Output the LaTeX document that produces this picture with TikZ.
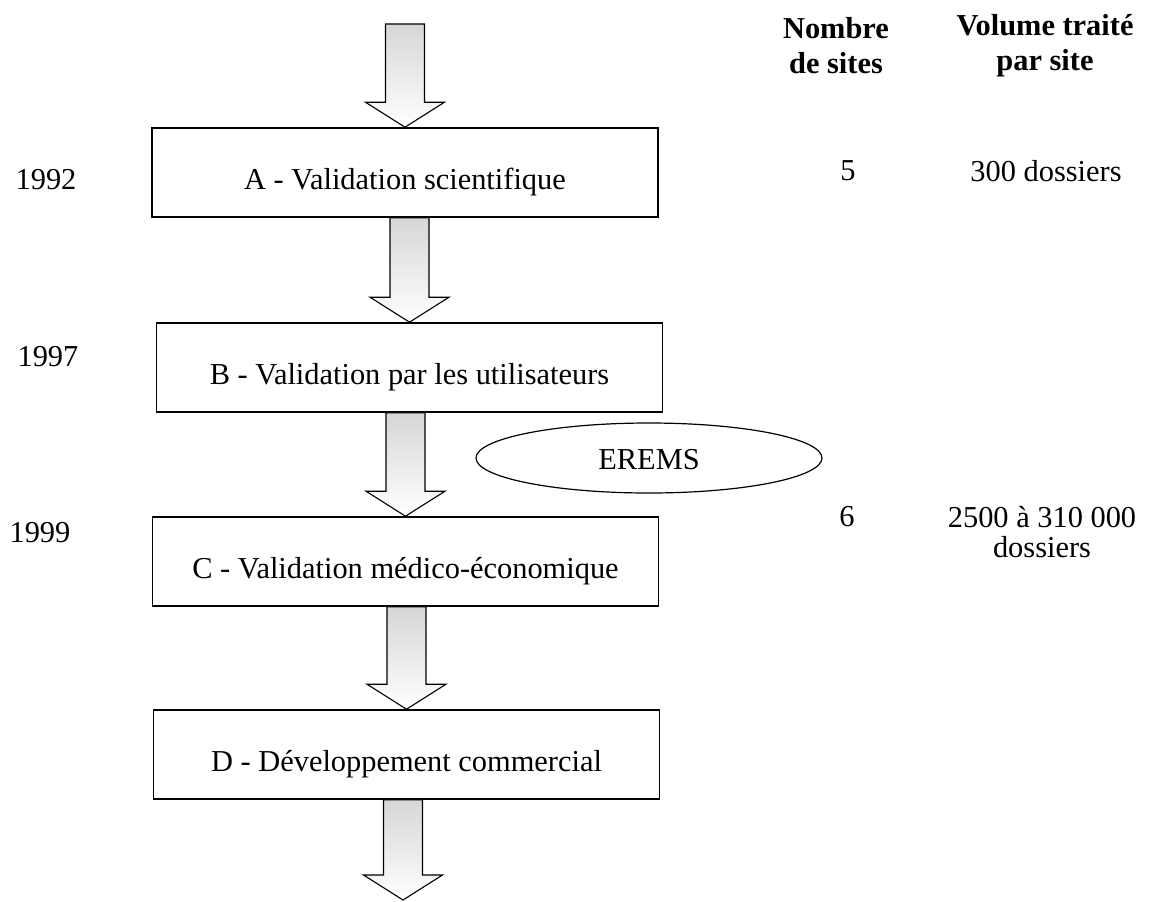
\documentclass[tikz,border=0pt]{standalone}
\usepackage{fontspec}
\setmainfont{Liberation Serif}
\usetikzlibrary{calc}
\usetikzlibrary{shapes.geometric}

\begin{document}
\begin{tikzpicture}[x=0.5pt,y=-0.5pt,
        font=\fontsize{15.2}{18.5}\selectfont,
        stage/.style={draw,line width=0.8pt,minimum width=253pt,minimum height=44.5pt,inner sep=0pt,text height=17pt,text depth=0pt},
        flow/.style={draw,line width=0.55pt,top color=black!16,bottom color=white},
        header/.style={align=center,font=\fontsize{15.2}{17.5}\selectfont\bfseries}]
        \useasboundingbox (0,0) rectangle (1158,901);

        % draw the stages
        \node[stage] (A) at (405,172.5) {A - Validation scientifique};
        \node[stage] (B) at (409.5,367.5) {B - Validation par les utilisateurs};
        \node[stage] (C) at (405.5,561.5) {C - Validation médico-économique};
        \node[stage] (D) at (406.5,754.5) {D - Développement commercial};
        \coordinate (start) at (403,24);
        \coordinate (end) at (403,900);

        % draw the block arrows between the stages
        \foreach \a/\b in {start/A.north, A.south/B.north, B.south/C.north, C.south/D.north, D.south/end} {
                \path[flow] ($(\b |- \a)+(-19.5,0)$) -- ($(\b)+(-19.5,-25)$) -- ($(\b)+(-39.5,-25)$)
                        -- (\b) -- ($(\b)+(39.5,-25)$) -- ($(\b)+(19.5,-25)$) -- ($(\b |- \a)+(19.5,0)$) -- cycle;
        }

        % the ellipse beside the third arrow
        \node[draw,ellipse,line width=0.6pt,minimum width=173pt,minimum height=35pt,inner sep=0pt,text height=11pt,text depth=0pt] (erems) at (649,458) {EREMS};

        % draw the years
        \node (y1992) at (46,180) {1992};
        \node (y1997) at (48,357) {1997};
        \node (y1999) at (40,533) {1999};

        % draw the two columns
        \node[header] (hsites) at (836,46) {Nombre\\de sites};
        \node[header] (hvolume) at (1045,46) {Volume traité\\par site};
        \node (n5) at (848,171) {5};
        \node (v300) at (1046,171) {300 dossiers};
        \node (n6) at (847,517) {6};
        \node[align=center,font=\fontsize{15.2}{15}\selectfont] (v2500) at (1042,532) {2500 à 310 000\\dossiers};
\end{tikzpicture}
\end{document}
